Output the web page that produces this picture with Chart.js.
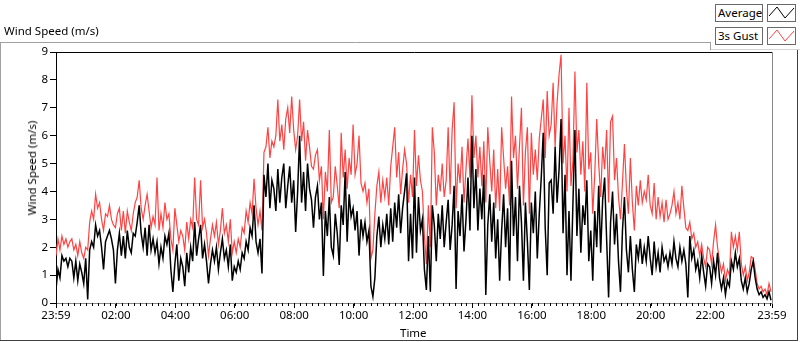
<!DOCTYPE html>
<html>
<head>
<meta charset="utf-8">
<title>Wind Speed</title>
<script src="https://cdn.jsdelivr.net/npm/chart.js@4.4.1/dist/chart.umd.min.js"></script>
<style>
  html, body { margin: 0; padding: 0; background: #fff; }
  #wrap { position: relative; width: 800px; height: 342px; font-family: "Noto Sans", sans-serif; color: #000; }
  #windChart { position: absolute; left: 0; top: 0; }
  .lbl { position: absolute; font-size: 11.5px; line-height: 14px; white-space: nowrap; }
  .box { position: absolute; box-sizing: border-box; border: 1px solid #6a6a6a; background: #fff; }
  .box.txt { padding-left: 2px; font-size: 11.5px; line-height: 15px; }
  #yTitle { left: 32px; top: 168px; transform: translate(-50%, -50%) rotate(-90deg); }
</style>
</head>
<body>
<div id="wrap">
  <canvas id="windChart" width="800" height="342"></canvas>
  <div class="lbl" style="left:4px;top:24px">Wind Speed (m/s)</div>
  <div class="lbl" id="yTitle">Wind Speed (m/s)</div>
  <div class="lbl" style="left:400px;top:326px">Time</div>

  <div class="box txt" style="left:715px;top:4px;width:48px;height:18px">Average</div>
  <div class="box" style="left:767px;top:4px;width:29px;height:18px">
    <svg width="27" height="16"><polyline points="1,10 9,1 17,12 26,2" fill="none" stroke="#000" stroke-width="1"/></svg>
  </div>
  <div class="box txt" style="left:715px;top:27px;width:48px;height:18px">3s Gust</div>
  <div class="box" style="left:767px;top:27px;width:29px;height:18px">
    <svg width="27" height="16"><polyline points="1,10 9,1 17,12 26,2" fill="none" stroke="#ff4343" stroke-width="1"/></svg>
  </div>
</div>

<script>
// one sample every 4 minutes, starting at 23:59
const STEP_MIN = 4;
const X_MAX = 1446;

const avgSpeed = [
  0.5, 1.2, 0.9, 1.7, 1.5, 1.6, 1.3, 1.6, 1.5, 0.9,
  1.5, 0.8, 1.4, 1.1, 0.7, 1.6, 0.13, 1.9, 2.2, 2.0,
  2.8, 2.4, 2.6, 2.0, 1.2, 2.2, 2.4, 2.6, 2.3, 1.9,
  0.7, 1.9, 2.5, 1.7, 2.4, 1.6, 2.6, 2.0, 1.8, 2.5,
  2.4, 2.9, 3.5, 2.5, 2.0, 2.7, 1.7, 2.8, 1.9, 2.3,
  1.8, 2.2, 1.4, 2.0, 1.6, 2.4, 2.1, 2.5, 1.2, 0.4,
  1.4, 2.1, 0.8, 1.6, 1.3, 0.6, 1.8, 1.1, 2.0, 1.5,
  2.9, 1.7, 2.3, 2.8, 1.6, 2.1, 1.5, 0.7, 1.4, 1.9,
  1.5, 2.0, 1.2, 1.8, 2.3, 1.6, 1.9, 1.3, 2.1, 0.8,
  1.3, 1.1, 1.5, 1.2, 1.8, 1.6, 2.2, 1.9, 2.7, 2.4,
  3.5, 2.2, 1.8, 2.3, 1.06, 4.6, 3.8, 5.0, 3.4, 4.4,
  4.1, 3.3, 4.8, 3.6, 4.5, 5.0, 3.4, 4.2, 4.9, 3.6,
  4.4, 2.55, 4.0, 6.0, 3.6, 4.7, 3.3, 5.0, 4.1, 3.7,
  2.7, 3.8, 4.2, 3.0, 3.6, 0.97, 3.3, 2.4, 3.8, 2.0,
  1.7, 3.2, 2.5, 1.36, 3.5, 2.8, 4.7, 2.2, 3.9, 3.1,
  3.4, 2.6, 3.3, 1.7, 3.0, 2.4, 2.9, 2.2, 2.6, 0.6,
  0.23, 0.9, 2.4, 3.1, 2.0, 2.8, 2.3, 3.2, 2.1, 3.4,
  2.2, 3.6, 2.7, 3.9, 2.5, 3.4, 4.0, 4.65, 1.5, 3.2,
  1.6, 4.5, 1.8, 3.8, 2.6, 3.0, 1.2, 0.47, 2.4, 0.4,
  3.5, 2.8, 1.5, 3.2, 2.3, 3.5, 2.0, 2.9, 3.7, 1.9,
  2.8, 4.2, 0.5, 3.3, 2.4, 3.9, 1.85, 3.0, 4.5, 2.6,
  6.0, 3.4, 4.8, 2.6, 4.1, 3.0, 4.6, 0.29, 2.8, 3.9,
  2.2, 3.6, 1.6, 3.0, 0.8, 2.6, 3.9, 2.0, 3.4, 0.8,
  5.1, 2.4, 3.8, 1.5, 4.2, 2.9, 0.8, 3.6, 2.2, 0.47,
  3.6, 2.5, 4.0, 1.6, 3.2, 4.5, 6.1, 2.7, 1.0, 4.3,
  4.4, 3.2, 5.6, 3.6, 4.8, 6.6, 2.5, 4.6, 1.0, 3.3,
  0.8, 3.6, 6.2, 2.4, 4.1, 1.8, 3.5, 2.8, 4.4, 1.5,
  2.6, 0.8, 3.3, 2.0, 4.2, 1.8, 3.7, 4.5, 2.3, 0.2,
  2.9, 4.0, 2.1, 3.2, 1.5, 0.4, 2.6, 3.8, 1.9, 1.1,
  2.4, 1.2, 0.4, 2.1, 1.6, 2.3, 1.4, 2.0, 1.5, 2.4,
  1.6, 1.0, 2.2, 1.3, 1.8, 1.1, 2.0, 1.5, 1.7, 1.3,
  1.8, 1.4, 2.2, 1.6, 1.3, 2.0, 1.5, 1.9, 1.4, 0.2,
  2.4, 1.6, 1.9, 1.2, 1.5, 0.9, 1.7, 1.1, 0.6, 1.4,
  1.3, 0.7, 1.5, 1.0, 1.8, 0.9, 0.5, 0.9, 0.3, 0.8,
  0.6, 1.5, 1.2, 1.8, 1.3, 1.6, 0.8, 0.5, 0.9, 0.4,
  0.7, 1.2, 1.5, 0.9, 0.5, 0.3, 0.4, 0.2, 0.3, 0.15,
  0.4, 0.1
];

const gustSpeed = [
  1.7, 2.3, 1.9, 2.4, 2.1, 2.3, 2.0, 2.2, 2.3, 1.9,
  2.1, 1.7, 2.2, 1.8, 1.6, 2.0, 1.9, 2.9, 3.3, 3.0,
  3.9, 3.4, 3.6, 3.0, 2.6, 3.2, 3.1, 3.5, 3.0, 2.8,
  2.7, 3.2, 3.4, 2.6, 3.3, 2.5, 3.3, 2.9, 2.6, 3.2,
  3.6, 3.8, 4.4, 3.4, 3.0, 3.5, 3.9, 3.3, 2.7, 3.1,
  2.8, 4.5, 2.6, 3.2, 2.7, 3.6, 3.0, 3.2, 2.3, 1.9,
  3.4, 2.8, 2.2, 2.6, 2.4, 1.9, 2.9, 2.3, 3.0, 2.7,
  4.5, 3.0, 2.8, 4.4, 2.7, 3.0, 2.5, 1.7, 2.3, 2.8,
  2.4, 2.9, 2.1, 2.6, 3.4, 2.5, 2.8, 2.2, 3.0, 1.8,
  2.2, 1.8, 2.3, 2.0, 2.7, 2.5, 3.3, 2.9, 3.6, 3.2,
  4.45, 3.4, 2.8, 3.3, 2.6, 5.4, 5.6, 6.3, 5.2, 5.8,
  5.6, 6.0, 7.3, 5.8, 6.4, 5.5, 6.6, 7.0, 6.1, 7.4,
  6.2, 5.5, 6.0, 7.3, 5.8, 6.5, 5.1, 6.2, 5.6, 4.9,
  4.8, 5.3, 5.5, 4.4, 4.9, 3.0, 4.7, 4.0, 6.2, 3.6,
  3.8, 4.9, 4.2, 3.4, 6.1, 4.5, 5.5, 4.1, 5.2, 4.6,
  6.4, 4.6, 5.0, 6.0, 4.3, 4.0, 4.3, 3.6, 4.1, 1.6,
  1.9, 3.2, 4.2, 4.7, 3.6, 4.4, 3.8, 4.5, 3.5, 4.9,
  5.6, 6.3, 4.5, 5.4, 3.9, 4.8, 5.5, 5.0, 3.6, 4.6,
  3.8, 6.2, 4.2, 5.3, 4.4, 4.0, 2.4, 1.4, 3.5, 2.0,
  6.3, 5.4, 3.5, 4.6, 4.0, 5.0, 3.8, 4.4, 6.3, 3.9,
  6.2, 7.2, 3.4, 5.0, 4.3, 5.6, 3.6, 4.8, 5.9, 4.5,
  7.45, 5.2, 6.0, 4.5, 5.6, 4.2, 5.8, 3.6, 6.3, 5.1,
  4.0, 5.5, 3.4, 4.8, 3.3, 6.3, 5.2, 4.1, 4.9, 3.5,
  7.4, 5.2, 6.0, 4.1, 5.6, 7.0, 3.5, 5.4, 6.3, 3.2,
  6.1, 4.6, 5.5, 4.4, 5.9, 6.6, 7.3, 5.2, 7.6, 6.0,
  6.4, 7.9, 5.6, 7.2, 8.2, 8.9, 5.0, 6.0, 4.0, 7.0,
  4.2, 5.1, 8.3, 5.4, 6.2, 4.6, 5.8, 4.0, 7.9, 4.8,
  5.4, 3.2, 4.6, 6.6, 5.0, 3.8, 5.6, 4.8, 6.2, 3.6,
  6.5, 6.7, 4.4, 5.2, 3.8, 3.0, 4.3, 5.7, 4.1, 3.2,
  5.2, 3.6, 2.6, 4.2, 3.5, 4.4, 3.6, 4.0, 3.7, 4.6,
  3.5, 3.2, 4.3, 3.0, 3.8, 3.1, 3.6, 2.9, 3.7, 3.0,
  3.2, 3.5, 4.0, 3.2, 3.6, 3.0, 4.2, 3.4, 2.7, 2.6,
  2.9, 2.3, 2.5, 2.0, 2.2, 1.7, 2.1, 1.6, 1.3, 2.0,
  1.9, 1.4, 2.2, 2.8, 2.0, 1.5, 1.1, 1.4, 0.8, 1.2,
  1.0, 2.55, 2.0, 2.4, 1.9, 2.55, 1.4, 1.0, 1.3, 0.8,
  1.1, 1.66, 1.6, 1.2, 0.7, 0.5, 0.6, 0.4, 0.5, 0.3,
  0.7, 0.4
];

// labelled time ticks (minutes after 23:59)
const timeTickMinutes = [0, 121, 241, 361, 481, 601, 721, 841, 961, 1081, 1201, 1321, X_MAX];
const timeTickLabels = ['23:59', '02:00', '04:00', '06:00', '08:00', '10:00', '12:00',
  '14:00', '16:00', '18:00', '20:00', '22:00', '23:59'];
const speedTicks = [0, 1, 2, 3, 4, 5, 6, 7, 8, 9];

const toPoints = arr => arr.map((v, i) => ({ x: i * STEP_MIN, y: v }));
const tickFont = { family: 'Noto Sans', size: 11.5 };

// frame around the whole control, plot edges and minor time ticks
const frame = {
  id: 'frame',
  beforeDraw(chart) {
    const ctx = chart.ctx;
    ctx.save();
    ctx.lineWidth = 1;
    ctx.strokeStyle = '#a0a0a0';
    ctx.beginPath();
    ctx.moveTo(0, 42.5); ctx.lineTo(711, 42.5);
    ctx.moveTo(0.5, 42); ctx.lineTo(0.5, 341);
    ctx.moveTo(710.5, 42); ctx.lineTo(710.5, 50);
    ctx.stroke();
    ctx.strokeStyle = '#d4d4d4';
    ctx.beginPath();
    ctx.moveTo(711, 49.5); ctx.lineTo(800, 49.5);
    ctx.stroke();
    ctx.strokeStyle = '#404040';
    ctx.beginPath();
    ctx.moveTo(0, 340.5); ctx.lineTo(798, 340.5);
    ctx.moveTo(797.5, 50); ctx.lineTo(797.5, 341);
    ctx.stroke();
    ctx.restore();
  },
  afterDraw(chart) {
    const { ctx, chartArea } = chart;
    const xs = chart.scales.x;
    ctx.save();
    ctx.lineWidth = 1;
    ctx.strokeStyle = '#000';
    ctx.beginPath();
    ctx.moveTo(chartArea.left, chartArea.top + 0.5);
    ctx.lineTo(chartArea.right + 1, chartArea.top + 0.5);
    for (let m = 1; m < X_MAX; m += 12) {
      const px = Math.round(xs.getPixelForValue(m)) + 0.5;
      ctx.moveTo(px, chartArea.bottom);
      ctx.lineTo(px, chartArea.bottom + 3);
    }
    ctx.stroke();
    ctx.strokeStyle = '#888';
    ctx.beginPath();
    ctx.moveTo(chartArea.right + 0.5, chartArea.top);
    ctx.lineTo(chartArea.right + 0.5, chartArea.bottom + 1);
    ctx.stroke();
    ctx.restore();
  }
};

new Chart(document.getElementById('windChart'), {
  type: 'line',
  data: {
    datasets: [
      {
        label: 'Average',
        data: toPoints(avgSpeed),
        borderColor: '#000',
        borderWidth: 1.5,
        pointRadius: 0,
        tension: 0
      },
      {
        label: '3s Gust',
        data: toPoints(gustSpeed),
        borderColor: '#ff4343',
        borderWidth: 1.2,
        pointRadius: 0,
        tension: 0
      }
    ]
  },
  options: {
    responsive: false,
    animation: false,
    layout: { padding: { left: 0, top: 52, right: 28, bottom: 0 } },
    plugins: {
      legend: { display: false },
      tooltip: { enabled: false }
    },
    scales: {
      x: {
        type: 'linear',
        min: 0,
        max: X_MAX,
        afterBuildTicks: axis => { axis.ticks = timeTickMinutes.map(v => ({ value: v })); },
        afterFit: s => { s.height = 39; },
        ticks: {
          autoSkip: false,
          maxRotation: 0,
          padding: 1,
          color: '#000',
          font: tickFont,
          callback: (v, i) => timeTickLabels[i]
        },
        grid: { drawOnChartArea: false, tickLength: 5, color: '#000' },
        border: { color: '#888' }
      },
      y: {
        min: 0,
        max: 9,
        afterBuildTicks: axis => { axis.ticks = speedTicks.map(v => ({ value: v })); },
        afterFit: s => { s.width = 56; },
        ticks: { padding: 2, color: '#000', font: tickFont },
        grid: { drawOnChartArea: false, tickLength: 6, color: '#000' },
        border: { color: '#000' }
      }
    }
  },
  plugins: [frame]
});
</script>
</body>
</html>
